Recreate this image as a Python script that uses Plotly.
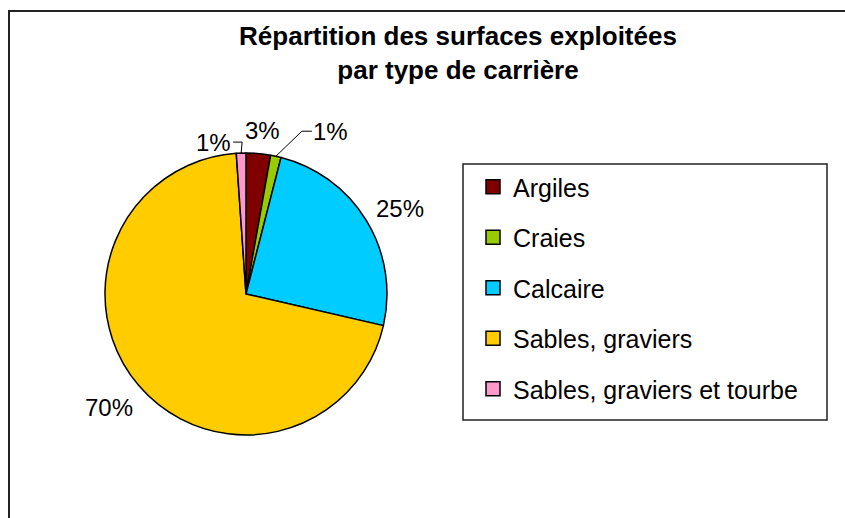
import math
import plotly.graph_objects as go

# ---- data ----
categories = ["Argiles", "Craies", "Calcaire", "Sables, graviers", "Sables, graviers et tourbe"]
values = [2.8, 1.2, 24.6, 70.3, 1.1]
colors = ["#800000", "#99CC00", "#00CCFF", "#FFCC00", "#FF99CC"]
title_text = "Répartition des surfaces exploitées<br>par type de carrière"

# ---- layout constants (pixels) ----
W, H = 845, 518
CX, CY, R = 246, 294, 141
FONT = "Liberation Sans, Arial, Helvetica, sans-serif"


def px(x):
    return x / W


def py(y):
    return 1 - y / H


fig = go.Figure()
fig.add_trace(go.Pie(
    labels=categories, values=values, sort=False, direction="clockwise", rotation=0,
    marker=dict(colors=colors, line=dict(color="black", width=1.5)),
    textinfo="none", hoverinfo="label+percent", showlegend=False,
    domain=dict(x=[px(CX - R), px(CX + R)], y=[py(CY + R), py(CY - R)]),
))

# legend entries (one group per category for spacing)
for cat, col in zip(categories, colors):
    fig.add_trace(go.Scatter(
        x=[None], y=[None], mode="markers", name=cat, legendgroup=cat,
        marker=dict(symbol="square", size=14, color=col, line=dict(color="black", width=1.5)),
    ))

# percentage labels computed from the data
total = sum(values)
label_k = [1.18, 1.0, 1.26, 1.26, 1.0]
label_off = [(2, 0), (55, -27), (2, 5), (-2, -4), (-28, -13)]
annotations = []
shapes = []
cum = 0.0
for i, v in enumerate(values):
    frac = v / total
    mid = (cum + frac / 2) * 2 * math.pi
    cum += frac
    sx, sy = math.sin(mid), -math.cos(mid)
    lx = CX + label_k[i] * R * sx + label_off[i][0]
    ly = CY + label_k[i] * R * sy + label_off[i][1]
    annotations.append(dict(
        x=px(lx), y=py(ly + 2), xref="paper", yref="paper", text=f"{round(frac * 100)}%",
        showarrow=False, xanchor="center", yanchor="middle",
        font=dict(family=FONT, size=24, color="black"),
    ))
    if i in (1, 4):
        rx, ry = CX + R * sx, CY + R * sy
        if label_off[i][0] > 0:
            ex, ey = lx - 29, ly + 2
            path = f"M {px(rx)} {py(ry)} L {px(ex)} {py(ey)} L {px(ex + 10)} {py(ey)}"
        else:
            ex, ey = rx + 1, ly + 2
            path = f"M {px(rx)} {py(ry)} L {px(ex)} {py(ey)} L {px(ex - 9)} {py(ey)}"
        shapes.append(dict(type="path", xref="paper", yref="paper", path=path,
                           line=dict(color="black", width=1)))

# chart border
shapes.append(dict(type="rect", xref="paper", yref="paper", x0=px(9), y0=py(11), x1=px(W + 10), y1=py(H + 10),
                   line=dict(color="#222222", width=2), fillcolor="rgba(0,0,0,0)", layer="below"))
# legend frame
shapes.append(dict(type="rect", xref="paper", yref="paper", x0=px(463), y0=py(164), x1=px(827), y1=py(420),
                   line=dict(color="#222222", width=1.5), fillcolor="rgba(0,0,0,0)", layer="above"))

fig.update_layout(
    width=W, height=H, margin=dict(l=0, r=0, t=0, b=0),
    paper_bgcolor="white", plot_bgcolor="white",
    font=dict(family=FONT, color="black"),
    title=dict(text=f"<b>{title_text}</b>", x=px(458), xanchor="center", y=py(45), yanchor="middle",
               font=dict(family=FONT, size=26, color="black")),
    xaxis=dict(visible=False), yaxis=dict(visible=False),
    showlegend=True,
    legend=dict(x=px(473), y=py(164), xanchor="left", yanchor="top",
                borderwidth=0, bgcolor="rgba(0,0,0,0)",
                font=dict(family=FONT, size=25, color="black"),
                tracegroupgap=15, itemclick=False, itemdoubleclick=False),
    annotations=annotations, shapes=shapes,
)

fig.write_html("out.html", config={"displayModeBar": False},
               post_script="document.body.style.margin='0';document.body.style.padding='0';")
